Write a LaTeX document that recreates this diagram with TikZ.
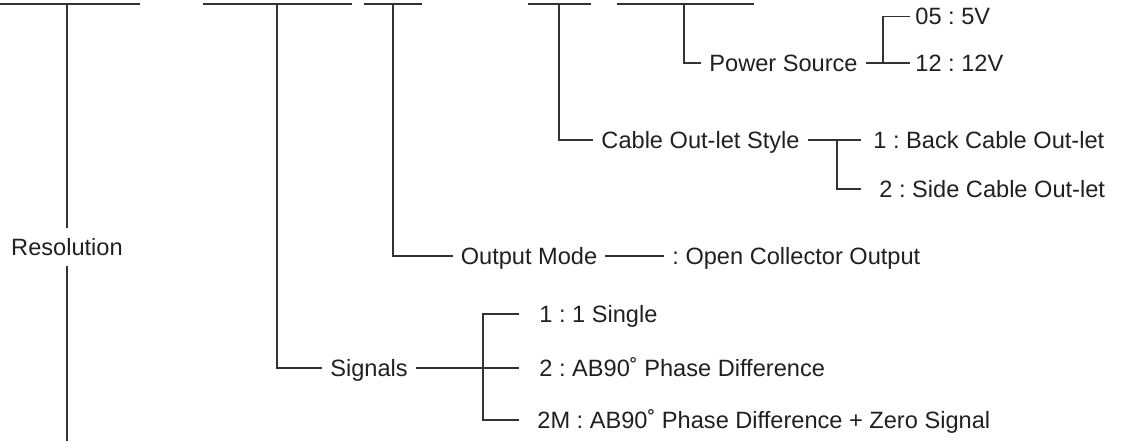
\documentclass[tikz,border=0pt]{standalone}
\usepackage{fontspec}
\setmainfont{Liberation Sans}
\usetikzlibrary{positioning}
\definecolor{inkdark}{HTML}{231F20}
\definecolor{rulegrey}{HTML}{333333}
\frenchspacing
\tikzset{
  % ---- labels ---------------------------------------------------------
  clabel/.style={
    inner xsep=3.8pt, inner ysep=0pt, text height=8.4pt, text depth=0pt,
    text=inkdark, font=\fontsize{11.8}{14}\selectfont},
  cvalue/.style={clabel, anchor=west},
  % ---- lines ----------------------------------------------------------
  cline/.style={draw=rulegrey, line width=0.6pt},
  cbar/.style={draw=rulegrey, line width=1pt},
}

\begin{document}
\begin{tikzpicture}[x=0.5pt, y=-0.5pt]
\useasboundingbox (0,0) rectangle (1131,441);

% ---------------- code fields along the top --------------------------
\foreach \a/\b/\t/\n in {0/140/67/tres, 203/352/277/tsig, 364/422/393/tout,
                        528/591/559/tcab, 617/754/684/tpow}{
  \draw[cbar] (\a,3.5) -- (\b,3.5);
  \coordinate (\n) at (\t,3.5);
}

% ---------------- power source ---------------------------------------
\node[clabel] (power) at (783.5,63) {Power Source};
\coordinate (pfork) at (883,63);
\node[cvalue, inner xsep=2.5pt] (v05) at (910,16.5) {05 : 5V};
\node[cvalue, inner xsep=2.5pt] (v12) at (910,63) {12 : 12V};
\draw[cline] (tpow) |- (power.west);
\draw[cline] (power.east) -- (v12.west);
\draw[cline] (v05.west) -| (pfork);

% ---------------- cable out-let style --------------------------------
\node[clabel] (cable) at (700.5,140) {Cable Out-let Style};
\coordinate (cfork) at (837,140);
\node[cvalue, inner xsep=6pt] (back) at (861,140) {1 : Back Cable Out-let};
\node[cvalue, inner xsep=9pt] (side) at (861,189) {2 : Side Cable Out-let};
\draw[cline] (tcab) |- (cable.west);
\draw[cline] (cable.east) -- (back.west);
\draw[cline] (cfork) |- (side.west);

% ---------------- output mode ----------------------------------------
\node[clabel] (outmode) at (529,256) {Output Mode};
\node[cvalue, inner xsep=4pt] (opencol) at (664,256) {: Open Collector Output};
\draw[cline] (tout) |- (outmode.west);
\draw[cline] (outmode.east) -- (opencol.west);

% ---------------- signals --------------------------------------------
\node[clabel] (signals) at (369,368) {Signals};
\coordinate (sfork) at (483,368);
\node[cvalue, inner xsep=10pt] (single) at (519,314) {1 : 1 Single};
\node[cvalue, inner xsep=10pt] (ab90) at (519,368) {2 : AB90˚ Phase Difference};
\node[cvalue, inner xsep=9pt] (zero) at (519,420)
  {2M : AB90˚ Phase Difference + Zero Signal};
\draw[cline] (tsig) |- (signals.west);
\draw[cline] (signals.east) -- (ab90.west);
\draw[cline] (single.west) -| (sfork) |- (zero.west);

% ---------------- resolution -----------------------------------------
\node[clabel, inner ysep=5pt] (res) at (67,247) {Resolution};
\coordinate (resend) at (67,441);
\draw[cline] (tres) -- (res.north);
\draw[cline] (res.south) -- (resend);

\end{tikzpicture}
\end{document}
